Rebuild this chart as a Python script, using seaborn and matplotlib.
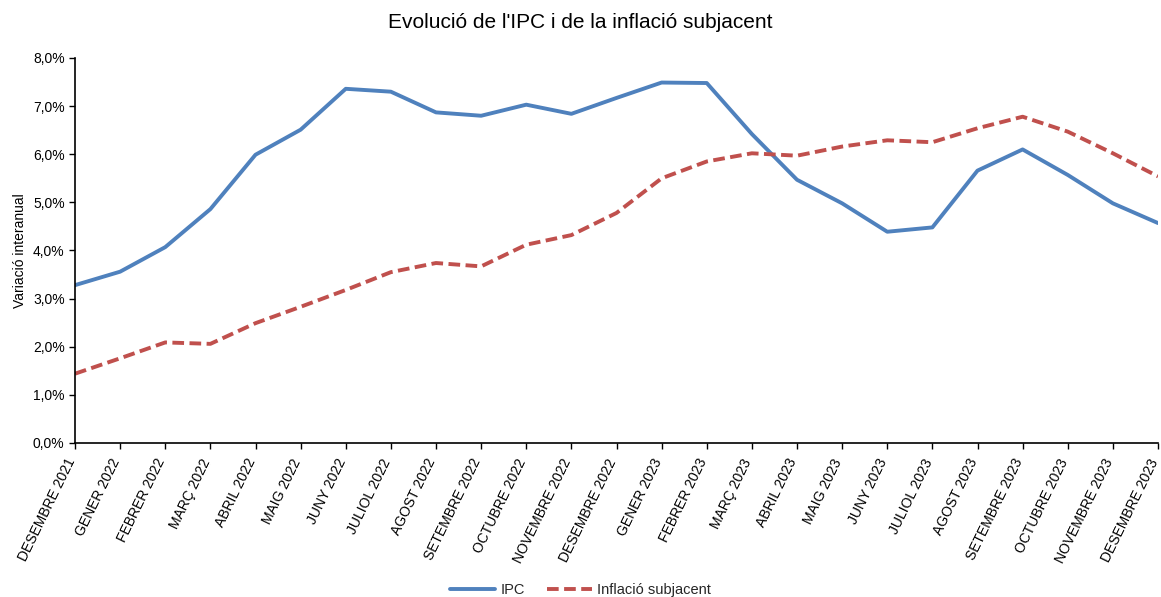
import matplotlib
matplotlib.use("Agg")
import matplotlib.pyplot as plt
import seaborn as sns
import pandas as pd
import numpy as np
from matplotlib.ticker import FuncFormatter

months = ["DESEMBRE 2021", "GENER 2022", "FEBRER 2022", "MARÇ 2022", "ABRIL 2022",
          "MAIG 2022", "JUNY 2022", "JULIOL 2022", "AGOST 2022", "SETEMBRE 2022",
          "OCTUBRE 2022", "NOVEMBRE 2022", "DESEMBRE 2022", "GENER 2023", "FEBRER 2023",
          "MARÇ 2023", "ABRIL 2023", "MAIG 2023", "JUNY 2023", "JULIOL 2023",
          "AGOST 2023", "SETEMBRE 2023", "OCTUBRE 2023", "NOVEMBRE 2023", "DESEMBRE 2023"]

ipc = [3.28, 3.56, 4.07, 4.86, 5.99, 6.51, 7.36, 7.30, 6.87, 6.80, 7.03, 6.84, 7.17,
       7.49, 7.48, 6.42, 5.47, 4.98, 4.39, 4.48, 5.66, 6.10, 5.57, 4.98, 4.57]
subjacent = [1.44, 1.76, 2.09, 2.06, 2.49, 2.83, 3.18, 3.55, 3.74, 3.67, 4.12, 4.32, 4.78,
             5.50, 5.85, 6.02, 5.97, 6.16, 6.29, 6.25, 6.54, 6.78, 6.47, 6.02, 5.54]

series_names = ["IPC", "Inflació subjacent"]
colors = ["#4F81BD", "#C0504D"]

df = pd.DataFrame({
    "idx": list(range(len(months))) * 2,
    "valor": ipc + subjacent,
    "serie": [series_names[0]] * len(months) + [series_names[1]] * len(months),
})

sns.set_theme(style="white")
plt.rcParams['font.family'] = ['Liberation Sans', 'DejaVu Sans']

fig = plt.figure(figsize=(11.61, 5.97), dpi=100)
ax = fig.add_axes([75/1161, 1 - 443/597, (1158 - 75)/1161, (443 - 58)/597])

sns.lineplot(data=df, x="idx", y="valor", hue="serie", style="serie",
             palette=colors, dashes={"IPC": "", "Inflació subjacent": (3, 1.4)},
             linewidth=2.8, ax=ax, legend=True)

ax.set_xlim(0, len(months) - 1)
ax.set_ylim(0, 8)
ax.set_yticks(np.arange(0, 8.1, 1))
ax.yaxis.set_major_formatter(FuncFormatter(lambda v, p: f"{v:.1f}".replace(".", ",") + "%"))
ax.set_xticks(range(len(months)))
ax.set_xticklabels(months, rotation=64, ha="right", va="baseline",
                   rotation_mode="anchor", fontsize=10, color="#000000")
ax.tick_params(axis="y", labelsize=10, labelcolor="#000000")
ax.tick_params(axis="both", direction="out", length=4, width=1, color="black", bottom=True, left=True)
ax.tick_params(axis="x", pad=9)

for s in ["top", "right"]:
    ax.spines[s].set_visible(False)
for s in ["left", "bottom"]:
    ax.spines[s].set_color("black")
    ax.spines[s].set_linewidth(1.2)

ax.set_xlabel("")
ax.set_ylabel("Variació interanual", fontsize=10, color="black")
ax.yaxis.set_label_coords(-0.044, 0.5)
ax.grid(False)

fig.suptitle("Evolució de l'IPC i de la inflació subjacent", fontsize=15, y=0.978, color="black")

leg = ax.legend(loc="lower center", frameon=False, ncol=2, fontsize=10.5,
                handlelength=3.1, handletextpad=0.35, columnspacing=1.5)
leg.set_bbox_to_anchor((0.5, -0.022), transform=fig.transFigure)

fig.savefig("out.png", dpi=100)
